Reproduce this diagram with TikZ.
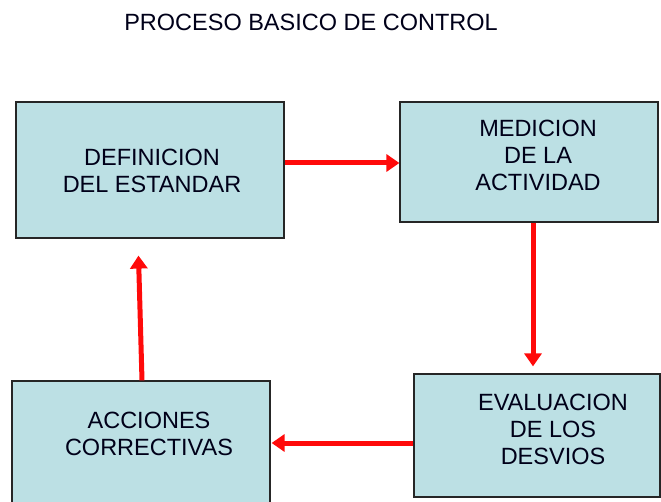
\documentclass[tikz,border=0pt]{standalone}
\usepackage{fontspec}
\setmainfont{Liberation Sans}
\usetikzlibrary{arrows.meta}
\definecolor{boxfill}{HTML}{BCE0E4}
\definecolor{arrred}{HTML}{FF0A0A}
\begin{document}
\begin{tikzpicture}[x=1pt,y=-1pt,
  box/.style={draw=black!85,line width=1.2pt,fill=boxfill,rectangle,inner sep=0pt},
  txt/.style={font=\fontsize{23.5}{27}\selectfont,align=center,inner sep=0pt,text=black!90!blue},
  arr/.style={draw=arrred,line width=5pt,-{Triangle[length=13pt,width=17pt]}}]
\clip (0,0) rectangle (661,502);
\useasboundingbox (0,0) rectangle (661,502);
\node[txt] (title) at (311,22) {PROCESO BASICO DE CONTROL};
\node[box,minimum width=268pt,minimum height=136pt] (b1) at (150,170) {};
\node[box,minimum width=258pt,minimum height=120pt] (b2) at (529,162) {};
\node[box,minimum width=258pt,minimum height=124pt] (b3) at (141,443) {};
\node[box,minimum width=246pt,minimum height=123pt] (b4) at (537,435.5) {};
\node[txt] (t1) at (152,170.5) {DEFINICION\\DEL ESTANDAR};
\node[txt] (t2) at (538,155) {MEDICION\\DE LA\\ACTIVIDAD};
\node[txt] (t3) at (149,434) {ACCIONES\\CORRECTIVAS};
\node[txt] (t4) at (553,429) {EVALUACION\\DE LOS\\DESVIOS};
\draw[arr] ([yshift=7pt]b1.east) -- ([yshift=-1pt]b2.west);
\draw[arr,shorten >=7pt] ([xshift=4pt]b2.south) -- ([xshift=-4pt]b4.north);
\draw[arr,shorten >=1pt] ([yshift=-7.5pt]b4.west) -- (b3.east);
\draw[arr,shorten >=17pt] ([xshift=1pt]b3.north) -- ([xshift=-12pt]b1.south);
\end{tikzpicture}
\end{document}
